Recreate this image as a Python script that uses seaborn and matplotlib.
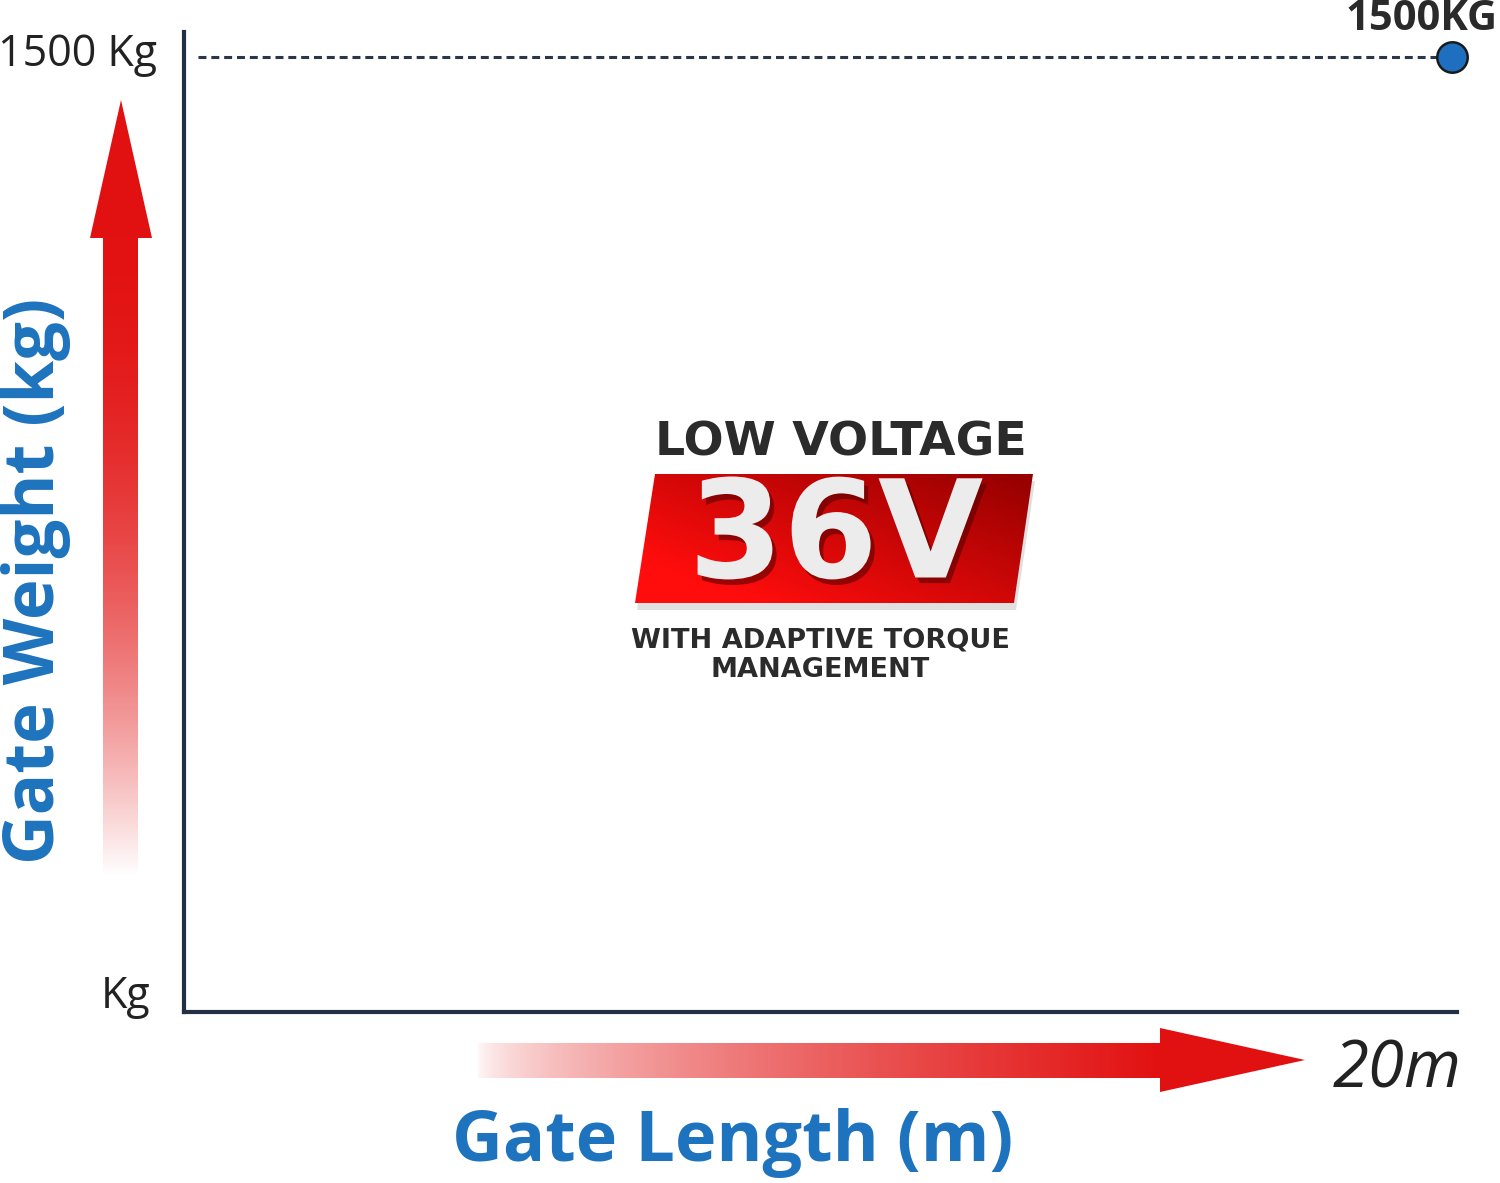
import numpy as np
import matplotlib
matplotlib.use("Agg")
from matplotlib import pyplot as plt
from matplotlib.patches import Polygon
import matplotlib.patheffects as pe
import seaborn as sns

# chart values
gate_length_m = [20]
gate_weight_kg = [1500]
max_label = "1500KG"
y_top_label = "1500 Kg"
y_bottom_label = "Kg"
x_end_label = "20m"
x_title = "Gate Length (m)"
y_title = "Gate Weight (kg)"
logo_top = "LOW VOLTAGE"
logo_main = "36V"
logo_sub = "WITH ADAPTIVE TORQUE\nMANAGEMENT"

sns.set_style("white")
plt.rcParams['font.family'] = ['Open Sans', 'DejaVu Sans']

W, H = 1500, 1183
fig = plt.figure(figsize=(W / 100, H / 100), dpi=100)

# decoration layer in pixel coordinates
deco = fig.add_axes([0, 0, 1, 1], zorder=0)
deco.set_xlim(0, W)
deco.set_ylim(H, 0)
deco.axis("off")

RED = np.array([0.89, 0.07, 0.07])


def gradient_arrow(verts, extent, alpha, horizontal):
    poly = Polygon(verts, closed=True, facecolor="none", edgecolor="none")
    deco.add_patch(poly)
    n = len(alpha)
    img = np.zeros((1, n, 4)) if horizontal else np.zeros((n, 1, 4))
    img[..., :3] = RED
    if horizontal:
        img[0, :, 3] = alpha
    else:
        img[:, 0, 3] = alpha
    im = deco.imshow(img, extent=extent, aspect="auto", interpolation="bilinear", zorder=1)
    im.set_clip_path(poly)


# vertical arrow (fades downward)
t = np.linspace(0, 1, 300)
a_v = np.clip(1 - np.clip((t * 780 - 137) / 640, 0, 1) ** 2.0, 0, 1)
gradient_arrow([(121, 100), (152, 238), (138, 238), (138, 880), (103, 880), (103, 238), (90, 238)],
               (85, 157, 880, 100), a_v, horizontal=False)

# horizontal arrow (fades leftward)
s = np.linspace(0, 1, 300)
a_h = np.clip(s * 830 / 680, 0, 1) ** 0.6
gradient_arrow([(475, 1043), (1160, 1043), (1160, 1028), (1305, 1060), (1160, 1092), (1160, 1078), (475, 1078)],
               (475, 1305, 1095, 1025), a_h, horizontal=True)

# logo: red slanted box
box = [(655, 474), (1033, 474), (1014, 603), (635, 603)]
shadow = Polygon([(x + 2, y + 7) for x, y in box], closed=True, facecolor="#000000",
                 alpha=0.12, edgecolor="none", zorder=1)
deco.add_patch(shadow)
bpoly = Polygon(box, closed=True, facecolor="none", edgecolor="none")
deco.add_patch(bpoly)
gx, gy = np.meshgrid(np.linspace(0, 1, 200), np.linspace(0, 1, 100))
mix = np.clip(0.65 * gx + 0.55 * (1 - gy) - 0.2, 0, 1)
light = np.array([1.0, 0.05, 0.05])
dark = np.array([0.58, 0.0, 0.0])
box_img = light[None, None, :] * (1 - mix[..., None]) + dark[None, None, :] * mix[..., None]
bim = deco.imshow(box_img, extent=(635, 1033, 603, 474), aspect="auto", zorder=2)
bim.set_clip_path(bpoly)

deco.text(841, 443, logo_top, ha="center", va="center", fontsize=34, fontweight="bold",
          family="DejaVu Sans", color="#2b2b2b", zorder=3)
deco.text(836, 540, logo_main, ha="center", va="center", fontsize=98, fontweight="bold",
          family="DejaVu Sans", color="#ececec", zorder=3,
          path_effects=[pe.withSimplePatchShadow(offset=(3, -4), shadow_rgbFace="#5a0000", alpha=0.6)])
deco.text(820, 655, logo_sub, ha="center", va="center", fontsize=19.5, fontweight="bold",
          family="DejaVu Sans", color="#2b2b2b", linespacing=1.2, zorder=3)

# axis labels and end labels
deco.text(157, 55, y_top_label, ha="right", va="center", fontsize=31, color="#222222", zorder=3)
deco.text(150, 997, y_bottom_label, ha="right", va="center", fontsize=31, color="#222222", zorder=3)
deco.text(1462, 1071, x_end_label, ha="right", va="center", fontsize=47, style="italic",
          color="#222222", zorder=3)
deco.text(1498, 19, max_label, ha="right", va="center", fontsize=30, fontweight="bold",
          color="#2a2a2a", zorder=3)
deco.text(733, 1143, x_title, ha="center", va="center", fontsize=50.5, fontweight="bold",
          color="#1e73be", zorder=3)
deco.text(36, 581, y_title, ha="center", va="center", rotation=90, fontsize=49.5, fontweight="bold",
          color="#1e73be", zorder=3)

# main chart axes
left, right, bottom, top = 184, 1457, 1012, 32
ax = fig.add_axes([left / W, (H - bottom) / H, (right - left) / W, (bottom - top) / H], zorder=2)
ax.patch.set_alpha(0)
x_full = gate_length_m[0] * (right - left) / (1452 - left)
y_full = gate_weight_kg[0] * (bottom - top) / (bottom - 57)
ax.set_xlim(0, x_full)
ax.set_ylim(0, y_full)

ax.hlines(gate_weight_kg[0], 0.22, gate_length_m[0], colors="#2b3648", linestyles=(0, (2.6, 1.6)),
          linewidth=2.2, zorder=3)
sns.scatterplot(x=gate_length_m, y=gate_weight_kg, ax=ax, s=480, color="#1f6fc1",
                edgecolor="#1a1a1a", linewidth=1.8, zorder=4, clip_on=False)

ax.set_xticks([])
ax.set_yticks([])
for side in ["top", "right"]:
    ax.spines[side].set_visible(False)
for side in ["left", "bottom"]:
    ax.spines[side].set_color("#232f45")
    ax.spines[side].set_linewidth(3)

fig.savefig("out.png", dpi=100)
